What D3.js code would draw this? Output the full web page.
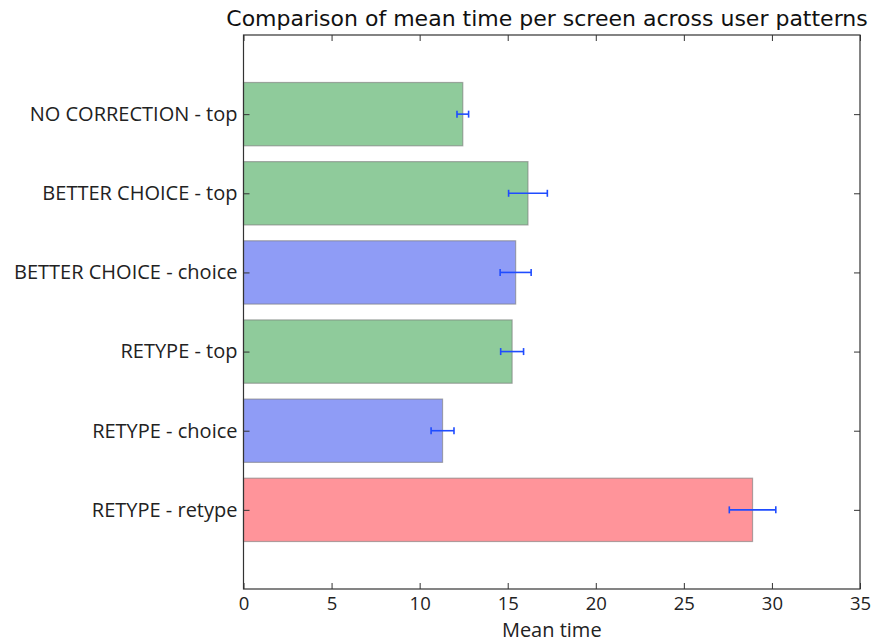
<!DOCTYPE html>
<html>
<head>
<meta charset="utf-8">
<script src="https://cdn.jsdelivr.net/npm/d3@7"></script>
<style>
  html, body { margin: 0; padding: 0; background: #fff; }
  svg { display: block; }
</style>
</head>
<body>
<svg id="chart" width="883" height="643"></svg>
<script>
// Mean time per screen for each user pattern (top to bottom)
const categories = [
  "NO CORRECTION - top",
  "BETTER CHOICE - top",
  "BETTER CHOICE - choice",
  "RETYPE - top",
  "RETYPE - choice",
  "RETYPE - retype"
];
const meanTimes = [12.45, 16.15, 15.45, 15.25, 11.3, 28.9];
const errors = [0.33, 1.1, 0.88, 0.65, 0.65, 1.32];
const groups = ["top", "top", "choice", "top", "choice", "retype"];
const xTicks = [0, 5, 10, 15, 20, 25, 30, 35];

const colorFor = { top: "#8fcb9b", choice: "#8f9cf6", retype: "#ff949a" };

const margin = { left: 243.5, right: 23, top: 35, bottom: 54 };
const W = 883, H = 643;
const svg = d3.select("#chart");

const x = d3.scaleLinear().domain([0, 35]).range([margin.left, W - margin.right]);
// bars sit at positions 0..5 from the bottom, with one unit of padding each side
const y = d3.scaleLinear().domain([-1, 6]).range([H - margin.bottom, margin.top]);
const barH = Math.abs(y(0.4) - y(-0.4));
const pos = i => categories.length - 1 - i;

const fontFam = "'Open Sans', sans-serif";

// bars
svg.append("g").selectAll("rect")
  .data(categories)
  .join("rect")
  .attr("x", x(0))
  .attr("y", (d, i) => y(pos(i) + 0.4))
  .attr("width", (d, i) => x(meanTimes[i]) - x(0))
  .attr("height", barH)
  .attr("fill", (d, i) => colorFor[groups[i]])
  .attr("stroke", "#7a7a7a")
  .attr("stroke-opacity", 0.6)
  .attr("stroke-width", 1.2);

// error bars
const eb = svg.append("g").attr("stroke", "#1f4cff").attr("stroke-width", 1.6);
categories.forEach((c, i) => {
  const cy = y(pos(i));
  const x0 = x(meanTimes[i] - errors[i]);
  const x1 = x(meanTimes[i] + errors[i]);
  eb.append("line").attr("x1", x0).attr("x2", x1).attr("y1", cy).attr("y2", cy);
  eb.append("line").attr("x1", x0).attr("x2", x0).attr("y1", cy - 3.5).attr("y2", cy + 3.5);
  eb.append("line").attr("x1", x1).attr("x2", x1).attr("y1", cy - 3.5).attr("y2", cy + 3.5);
});

// axes frame
const plotL = x(0), plotR = x(35), plotT = y(6), plotB = y(-1);
svg.append("rect")
  .attr("x", plotL).attr("y", plotT)
  .attr("width", plotR - plotL).attr("height", plotB - plotT)
  .attr("fill", "none").attr("stroke", "#333").attr("stroke-width", 1.2);

// bottom axis: ticks pointing inward, labels below
const xAxis = d3.axisBottom(x).tickValues(xTicks).tickSize(-6).tickPadding(8).tickFormat(d3.format("d"));
const gx = svg.append("g").attr("transform", `translate(0,${plotB})`).call(xAxis);
gx.select(".domain").remove();
gx.selectAll("line").attr("stroke", "#333");
gx.selectAll("text").attr("font-family", fontFam).attr("font-size", 18.5).attr("fill", "#222");

// matching ticks along top edge
const gxt = svg.append("g").attr("transform", `translate(0,${plotT})`)
  .call(d3.axisTop(x).tickValues(xTicks).tickSize(-6).tickFormat(""));
gxt.select(".domain").remove();
gxt.selectAll("line").attr("stroke", "#333");

// left axis with category labels
const yAxis = d3.axisLeft(y).tickValues(d3.range(categories.length))
  .tickSize(-6).tickPadding(6).tickFormat(v => categories[categories.length - 1 - v]);
const gy = svg.append("g").attr("transform", `translate(${plotL},0)`).call(yAxis);
gy.select(".domain").remove();
gy.selectAll("line").attr("stroke", "#333");
gy.selectAll("text").attr("font-family", fontFam).attr("font-size", 20).attr("fill", "#222");

// ticks on right edge
const gyr = svg.append("g").attr("transform", `translate(${plotR},0)`)
  .call(d3.axisRight(y).tickValues(d3.range(categories.length)).tickSize(-6).tickFormat(""));
gyr.select(".domain").remove();
gyr.selectAll("line").attr("stroke", "#333");

// title and axis label
svg.append("text")
  .attr("x", 547).attr("y", 26)
  .attr("text-anchor", "middle")
  .attr("font-family", "'DejaVu Sans', sans-serif").attr("font-size", 22).attr("fill", "#111")
  .text("Comparison of mean time per screen across user patterns");

svg.append("text")
  .attr("x", (plotL + plotR) / 2).attr("y", 637)
  .attr("text-anchor", "middle")
  .attr("font-family", fontFam).attr("font-size", 20).attr("fill", "#222")
  .text("Mean time");
</script>
</body>
</html>
